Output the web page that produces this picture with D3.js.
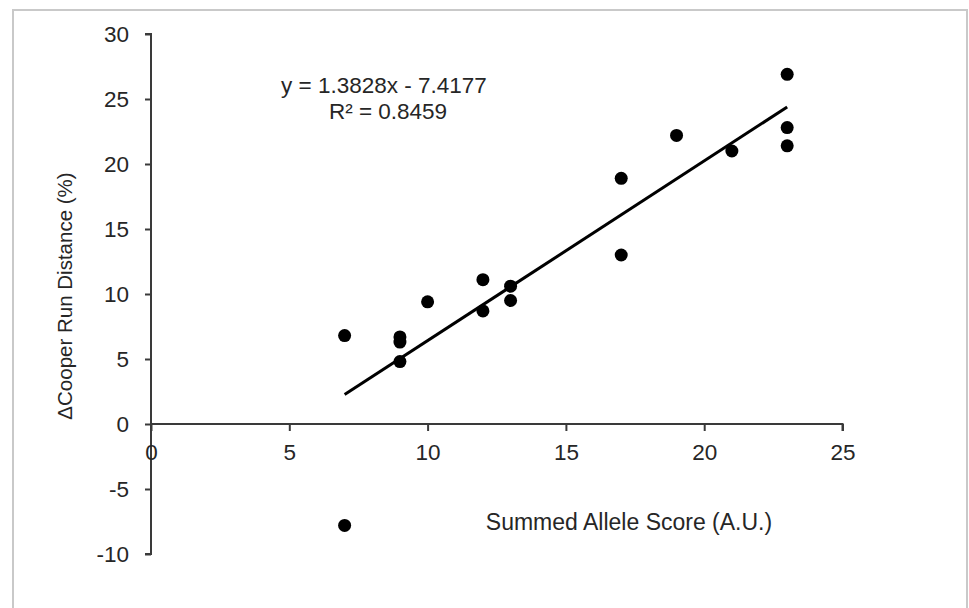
<!DOCTYPE html>
<html>
<head>
<meta charset="utf-8">
<script src="https://cdn.jsdelivr.net/npm/d3@7"></script>
<style>
  html, body { margin: 0; padding: 0; background: #fff; }
  svg { display: block; }
  text { font-family: "Liberation Sans", Arial, sans-serif; fill: #262626; }
</style>
</head>
<body>
<svg id="chart" width="969" height="608"></svg>
<script>
// ---- data ----
const alleleScore = [7, 7, 9, 9, 9, 10, 12, 12, 13, 13, 17, 17, 19, 21, 23, 23, 23];
const cooperDelta = [-7.8, 6.8, 6.7, 6.3, 4.8, 9.4, 11.1, 8.7, 10.6, 9.5, 18.9, 13.0, 22.2, 21.0, 26.9, 22.8, 21.4];
const trendSlope = 1.3828;
const trendIntercept = -7.4177;
const rSquared = 0.8459;
const xTicks = [0, 5, 10, 15, 20, 25];
const yTicks = [-10, -5, 0, 5, 10, 15, 20, 25, 30];
const xTitle = "Summed Allele Score (A.U.)";
const yTitle = "\u0394Cooper Run Distance (%)";

// ---- layout ----
const svg = d3.select("#chart");
const x = d3.scaleLinear().domain([0, 25]).range([151, 842.5]);
const y = d3.scaleLinear().domain([-10, 30]).range([554, 34]);
const axisColor = "#3a3a3a";
const fmt = d => String(d);

// frame
svg.append("rect")
  .attr("x", 13).attr("y", 10)
  .attr("width", 954).attr("height", 620)
  .attr("fill", "none").attr("stroke", "#c9c9c9").attr("stroke-width", 2);

// y axis
const yAxis = svg.append("g")
  .attr("transform", `translate(${x(0)},0)`)
  .call(d3.axisLeft(y).tickValues(yTicks).tickSize(6).tickPadding(16).tickFormat(fmt));
yAxis.select(".domain").attr("stroke", axisColor).attr("stroke-width", 2).attr("d", `M-6,${y(30)}H0V${y(-10)}H-6`);
yAxis.selectAll(".tick line").attr("stroke", axisColor).attr("stroke-width", 2);
yAxis.selectAll(".tick text").attr("font-size", 22.5).attr("fill", "#262626")
  .attr("font-family", "Liberation Sans, Arial, sans-serif");

// x axis at y = 0
const xAxis = svg.append("g")
  .attr("transform", `translate(0,${y(0)})`)
  .call(d3.axisBottom(x).tickValues(xTicks).tickSize(7).tickPadding(13).tickFormat(fmt));
xAxis.select(".domain").attr("stroke", axisColor).attr("stroke-width", 2).attr("d", `M${x(0)},0H${x(25)}V7`);
xAxis.selectAll(".tick line").attr("stroke", axisColor).attr("stroke-width", 2);
xAxis.selectAll(".tick text").attr("font-size", 22.5).attr("fill", "#262626")
  .attr("font-family", "Liberation Sans, Arial, sans-serif");

// trendline
const xMin = d3.min(alleleScore), xMax = d3.max(alleleScore);
svg.append("line")
  .attr("x1", x(xMin)).attr("y1", y(trendSlope * xMin + trendIntercept))
  .attr("x2", x(xMax)).attr("y2", y(trendSlope * xMax + trendIntercept))
  .attr("stroke", "#000").attr("stroke-width", 3);

// points
svg.append("g").selectAll("circle")
  .data(alleleScore.map((d, i) => [d, cooperDelta[i]]))
  .join("circle")
  .attr("cx", d => x(d[0])).attr("cy", d => y(d[1]))
  .attr("r", 6.5).attr("fill", "#000");

// equation
svg.append("text").attr("x", 384).attr("y", 93)
  .attr("text-anchor", "middle").attr("font-size", 22.5)
  .text(`y = ${trendSlope}x - ${Math.abs(trendIntercept)}`);
svg.append("text").attr("x", 388).attr("y", 119)
  .attr("text-anchor", "middle").attr("font-size", 22.5)
  .text(`R\u00B2 = ${rSquared}`);

// axis titles
svg.append("text").attr("x", 629).attr("y", 530)
  .attr("text-anchor", "middle").attr("font-size", 23)
  .text(xTitle);
svg.append("text")
  .attr("transform", "translate(72,296) rotate(-90)")
  .attr("text-anchor", "middle").attr("font-size", 20.5)
  .text(yTitle);
</script>
</body>
</html>
